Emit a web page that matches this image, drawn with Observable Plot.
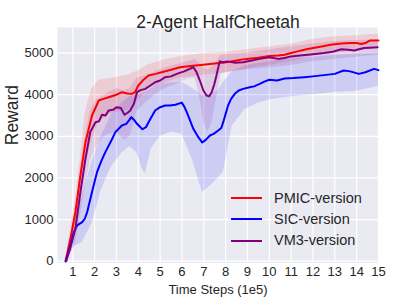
<!DOCTYPE html>
<html>
<head>
<meta charset="utf-8">
<script src="https://cdn.jsdelivr.net/npm/d3@7"></script>
<script src="https://cdn.jsdelivr.net/npm/@observablehq/plot@0.6"></script>
<style>
  html, body { margin: 0; padding: 0; background: white; }
  #wrap { position: relative; width: 407px; height: 305px; font-family: "Liberation Sans", Arial, sans-serif; color: #262626; }
  #legend { position: absolute; left: 231px; top: 188px; }
  .row { height: 21.2px; line-height: 21.2px; font-size: 14.5px; white-space: nowrap; }
  .sw { display: inline-block; width: 31px; height: 2px; vertical-align: middle; margin-right: 12px; position: relative; top: -1px; }
</style>
</head>
<body>
<div id="wrap"><div id="legend"></div></div>
<script>
const title = "2-Agent HalfCheetah";
const xLabel = "Time Steps (1e5)";
const yLabel = "Reward";
const xTicks = [1,2,3,4,5,6,7,8,9,10,11,12,13,14,15];
const yTicks = [0,1000,2000,3000,4000,5000];
const seriesNames = ["PMIC-version", "SIC-version", "VM3-version"];
const seriesColors = ["#ff0000", "#0000ff", "#800080"];

// PMIC-version (red)
const pmicX = [0.67,0.9,1.12,1.35,1.58,1.88,2.19,2.4,2.64,3.0,3.25,3.5,3.7,3.85,4.0,4.2,4.47,4.8,5.07,5.5,5.91,6.4,6.97,7.5,8.04,8.5,8.95,9.5,10.0,10.4,10.7,11.0,11.3,11.7,12.07,12.4,12.8,13.3,13.74,14.0,14.2,14.4,14.6,15.0];
const pmicY = [0,550,1185,2060,2860,3500,3860,3900,3940,4000,4060,4030,4020,4060,4220,4340,4460,4500,4540,4600,4660,4690,4720,4750,4780,4820,4860,4890,4930,4940,4960,5000,5040,5090,5130,5160,5200,5230,5240,5240,5220,5240,5300,5300];
const pmicBandX = [0.67,1.12,1.35,1.58,1.88,2.19,2.64,3.0,3.5,4.0,4.47,5.07,5.91,6.97,8.04,8.95,10,11,12,13,14,15];
const pmicLo = [-30,850,1600,2300,2900,3350,3500,3580,3620,3850,4150,4250,4400,4460,4530,4620,4700,4790,4930,5000,5050,5120];
const pmicHi = [30,1500,2500,3600,4150,4350,4380,4420,4470,4580,4720,4820,4920,4990,5020,5080,5150,5220,5330,5390,5420,5460];

// SIC-version (blue)
const sicX = [0.67,0.85,1.05,1.2,1.43,1.55,1.66,1.88,2.11,2.3,2.49,2.75,2.95,3.25,3.45,3.6,3.68,3.8,3.94,4.19,4.35,4.47,4.77,5.0,5.23,5.45,5.7,5.99,6.1,6.22,6.52,6.75,6.93,7.1,7.28,7.45,7.66,7.8,7.89,8.11,8.25,8.42,8.6,8.8,9.1,9.3,9.56,9.8,10.0,10.35,10.7,11.1,11.6,12.0,12.5,13.0,13.4,13.7,14.1,14.4,14.8,15.0];
const sicY = [0,300,700,860,940,1020,1180,1660,2140,2400,2620,2880,3100,3260,3300,3400,3460,3400,3300,3170,3220,3340,3620,3700,3740,3740,3760,3810,3720,3580,3180,2980,2850,2920,3020,3060,3140,3200,3340,3740,3900,4020,4100,4140,4180,4200,4260,4320,4360,4340,4390,4400,4420,4440,4470,4500,4580,4560,4500,4540,4620,4590];
const sicBandX = [0.67,1.05,1.43,1.88,2.3,2.75,3.25,3.6,3.94,4.19,4.32,4.6,5.0,5.5,6.0,6.5,6.93,7.28,7.66,7.9,8.3,8.9,9.5,10,11,12,13,14,15];
const sicLo = [-30,350,450,900,1700,2250,2600,2750,2600,2200,2100,2700,3000,3100,3050,2400,1650,1800,2000,2150,3250,3650,3800,3870,3950,4000,4050,4080,4200];
const sicHi = [30,1050,1550,2400,3000,3500,3800,3950,4000,4000,4050,4150,4250,4280,4300,4150,3980,4000,4100,4300,4560,4700,4750,4800,4850,4900,4950,4980,5000];

// VM3-version (purple)
const vm3X = [0.7,0.9,1.12,1.35,1.58,1.8,2.04,2.2,2.34,2.5,2.64,2.85,3.02,3.2,3.37,3.5,3.63,3.8,3.94,4.1,4.32,4.55,4.77,5.0,5.23,5.5,5.76,6.1,6.52,6.65,6.82,6.98,7.13,7.25,7.36,7.48,7.58,7.66,7.73,7.9,8.04,8.4,8.8,9.2,9.56,10.0,10.4,10.7,11.0,11.4,11.76,12.1,12.5,12.9,13.3,13.6,13.9,14.1,14.35,14.6,14.96];
const vm3Y = [0,350,780,1660,2460,3100,3340,3360,3520,3500,3620,3640,3700,3680,3520,3560,3620,3780,4060,4110,4140,4220,4300,4340,4420,4440,4500,4560,4660,4560,4340,4100,3980,3960,4060,4250,4460,4650,4800,4780,4800,4770,4780,4820,4860,4900,4860,4880,4920,4940,4960,4980,5000,5030,5090,5080,5060,5090,5120,5130,5140];
const vm3BandX = [0.7,1.12,1.35,1.58,1.8,2.04,2.34,2.64,3.02,3.37,3.63,3.94,4.32,4.77,5.23,5.76,6.3,6.6,6.82,7.0,7.18,7.36,7.58,7.8,8.2,9,10,11,12,13,14,15];
const vm3Lo = [-30,400,1100,1800,2400,2700,2950,3050,3100,2900,3000,3600,3800,4000,4150,4250,4380,4400,3900,3350,3100,3300,3900,4500,4550,4600,4650,4700,4800,4850,4900,4950];
const vm3Hi = [30,1200,2200,3000,3600,3850,3950,4050,4150,4100,4150,4400,4450,4550,4650,4720,4800,4850,4750,4650,4600,4650,4800,4950,4980,5000,5080,5150,5220,5280,5300,5320];

const lines = [
  {name: seriesNames[0], color: seriesColors[0], x: pmicX, y: pmicY, bx: pmicBandX, lo: pmicLo, hi: pmicHi},
  {name: seriesNames[1], color: seriesColors[1], x: sicX, y: sicY, bx: sicBandX, lo: sicLo, hi: sicHi},
  {name: seriesNames[2], color: seriesColors[2], x: vm3X, y: vm3Y, bx: vm3BandX, lo: vm3Lo, hi: vm3Hi}
];

const bandMarks = lines.map(s => Plot.areaY(s.bx.map((x, i) => ({x, lo: s.lo[i], hi: s.hi[i]})),
  {x: "x", y1: "lo", y2: "hi", fill: s.color, fillOpacity: 0.12}));
const lineMarks = lines.map(s => Plot.lineY(s.x.map((x, i) => ({x, y: s.y[i]})),
  {x: "x", y: "y", stroke: s.color, strokeWidth: 2}));

const chart = Plot.plot({
  width: 407,
  height: 305,
  marginLeft: 57,
  marginRight: 29,
  marginTop: 27,
  marginBottom: 42.5,
  style: {fontFamily: "'Liberation Sans', Arial, sans-serif", background: "transparent", color: "#262626", overflow: "visible"},
  x: {domain: [0.3, 15]},
  y: {domain: [-43, 5614]},
  marks: [
    Plot.frame({fill: "#EAEAF2", stroke: null}),
    Plot.gridX(xTicks, {stroke: "white", strokeOpacity: 1, strokeWidth: 1.2}),
    Plot.gridY(yTicks, {stroke: "white", strokeOpacity: 1, strokeWidth: 1.2}),
    ...bandMarks,
    ...lineMarks,
    Plot.axisX(xTicks, {tickSize: 0, tickPadding: 4, fontSize: 13, label: null, tickFormat: d => String(d)}),
    Plot.axisY(yTicks, {tickSize: 0, tickPadding: 4, fontSize: 13, label: null, tickFormat: d => String(d)}),
    Plot.text([title], {frameAnchor: "top", dy: -12, fontSize: 17.5, fill: "#262626"}),
    Plot.text([xLabel], {frameAnchor: "bottom", dy: 30.5, fontSize: 13, fill: "#262626"}),
    Plot.text([yLabel], {frameAnchor: "left", dx: -45, rotate: -90, fontSize: 17.5, fill: "#262626"})
  ]
});

const wrap = document.getElementById("wrap");
wrap.insertBefore(chart, wrap.firstChild);

const legend = document.getElementById("legend");
lines.forEach(s => {
  const row = document.createElement("div");
  row.className = "row";
  const sw = document.createElement("span");
  sw.className = "sw";
  sw.style.background = s.color;
  row.appendChild(sw);
  row.appendChild(document.createTextNode(s.name));
  legend.appendChild(row);
});
</script>
</body>
</html>
